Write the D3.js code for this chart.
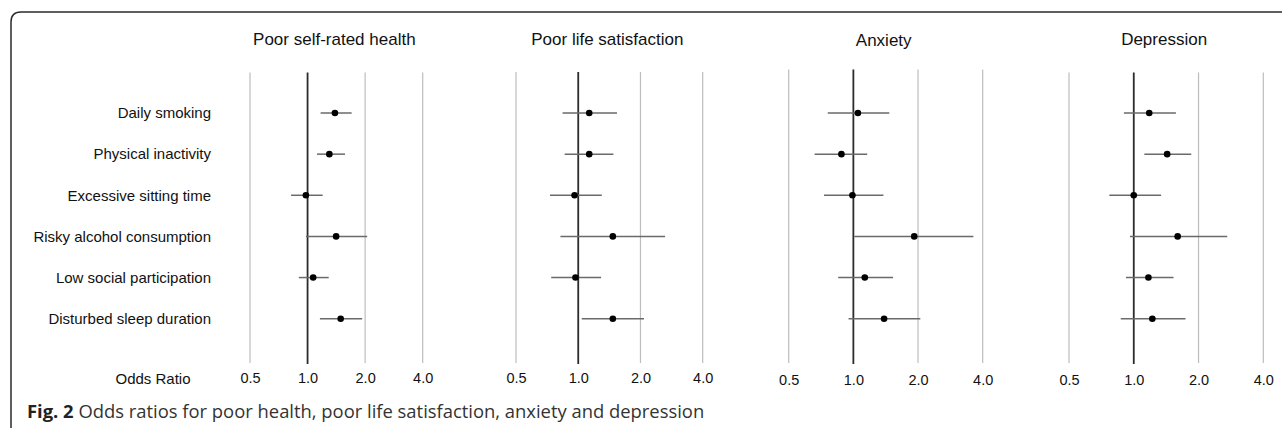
<!DOCTYPE html>
<html><head><meta charset="utf-8">
<script src="https://cdn.jsdelivr.net/npm/d3@7/dist/d3.min.js"></script>
<style>html,body{margin:0;padding:0;background:#fff;}svg{display:block;}</style>
</head><body><svg id="c" width="1282" height="428"></svg>
<script>
const categories = ["Daily smoking","Physical inactivity","Excessive sitting time","Risky alcohol consumption","Low social participation","Disturbed sleep duration"];
const panels = ["Poor self-rated health","Poor life satisfaction","Anxiety","Depression"];
const tickValues = [0.5, 1, 2, 4];
const tickLabels = ["0.5","1.0","2.0","4.0"];
// odds ratio, lower CI, upper CI per panel, in category order
const orHealth = [1.39, 1.30, 0.98, 1.41, 1.07, 1.49];
const loHealth = [1.17, 1.12, 0.82, 0.98, 0.90, 1.16];
const hiHealth = [1.70, 1.57, 1.20, 2.05, 1.29, 1.93];
const orLife = [1.13, 1.13, 0.96, 1.47, 0.97, 1.47];
const loLife = [0.84, 0.86, 0.73, 0.82, 0.74, 1.04];
const hiLife = [1.54, 1.48, 1.30, 2.63, 1.29, 2.08];
const orAnx = [1.05, 0.88, 0.99, 1.92, 1.13, 1.39];
const loAnx = [0.76, 0.66, 0.73, 1.01, 0.85, 0.95];
const hiAnx = [1.47, 1.16, 1.38, 3.62, 1.53, 2.05];
const orDep = [1.18, 1.43, 1.00, 1.60, 1.17, 1.22];
const loDep = [0.90, 1.12, 0.77, 0.96, 0.92, 0.87];
const hiDep = [1.57, 1.85, 1.34, 2.72, 1.53, 1.74];

const series = [[orHealth,loHealth,hiHealth],[orLife,loLife,hiLife],[orAnx,loAnx,hiAnx],[orDep,loDep,hiDep]];
const ranges = [[250,422.7],[516,702.7],[788.7,982.7],[1069,1263.3]];
const gridTop = [72.5,72,69.5,72.5];
const gridBottom = 363;

const svg = d3.select("#c");
const font = "'Liberation Sans', Arial, Helvetica, sans-serif";

// frame
svg.append("path")
  .attr("d","M11,428 L11,22 Q11,12 21,12 L1282,12")
  .attr("fill","none").attr("stroke","#2a2a2a").attr("stroke-width",1.5);

const y = d3.scalePoint().domain(categories).range([113,318.7]);

// row labels
svg.append("g").selectAll("text").data(categories).join("text")
  .attr("x",211).attr("y",d=>y(d)).attr("dy","0.35em")
  .attr("text-anchor","end").attr("font-family",font).attr("font-size",15).attr("fill","#111")
  .text(d=>d);

svg.append("text").attr("x",153).attr("y",384).attr("text-anchor","middle")
  .attr("font-family",font).attr("font-size",15).attr("fill","#111").text("Odds Ratio");

panels.forEach((p,i)=>{
  const x = d3.scaleLog().base(2).domain([0.5,4]).range(ranges[i]);
  const g = svg.append("g");
  g.append("text").attr("x",(x(0.5)+x(4))/2 - 2).attr("y",i===2?46:45).attr("text-anchor","middle")
    .attr("font-family",font).attr("font-size",17).attr("fill","#111").text(p);
  g.selectAll("line.grid").data(tickValues.filter(v=>v!==1)).join("line")
    .attr("x1",d=>x(d)).attr("x2",d=>x(d)).attr("y1",gridTop[i]).attr("y2",gridBottom)
    .attr("stroke","#bdbdbd").attr("stroke-width",1.2);
  g.append("line").attr("x1",x(1)).attr("x2",x(1)).attr("y1",gridTop[i]).attr("y2",gridBottom+1)
    .attr("stroke","#2b2b2b").attr("stroke-width",1.8);
  const axis = d3.axisBottom(x).tickValues(tickValues).tickFormat((d,j)=>tickLabels[j]).tickSize(0).tickPadding(0);
  const ax = g.append("g").attr("transform",`translate(0,${i>=2?374.5:372.5})`).call(axis);
  ax.select(".domain").remove();
  ax.selectAll("text").attr("font-family",font).attr("font-size",14.5).attr("fill","#111");
  const [or,lo,hi] = series[i];
  g.selectAll("line.ci").data(categories).join("line")
    .attr("x1",(d,j)=>x(lo[j])).attr("x2",(d,j)=>x(hi[j]))
    .attr("y1",d=>y(d)).attr("y2",d=>y(d))
    .attr("stroke","#6a6a6a").attr("stroke-width",1.5);
  g.selectAll("circle").data(categories).join("circle")
    .attr("cx",(d,j)=>x(or[j])).attr("cy",d=>y(d)).attr("r",3.3).attr("fill","#000");
});

const cap = svg.append("text").attr("x",27).attr("y",418).attr("font-family","'Open Sans', sans-serif").attr("font-size",18.4).attr("fill","#333");
cap.append("tspan").attr("font-weight","bold").attr("fill","#222").text("Fig. 2");
cap.append("tspan").text(" Odds ratios for poor health, poor life satisfaction, anxiety and depression");
</script></body></html>
